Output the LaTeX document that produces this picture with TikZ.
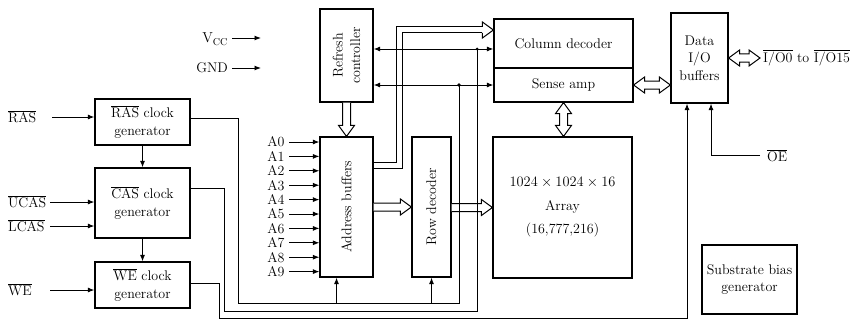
\documentclass[tikz,border=0pt]{standalone}
\usetikzlibrary{arrows.meta,calc}
\newcommand\ovl[1]{$\overline{\mbox{#1}}$}
\newcommand\wideR[2]{\draw[wide] let \p1=(#1), \p2=(#2) in (\x1,\y2+4pt) -- (\x2-11pt,\y2+4pt) -- (\x2-11pt,\y2+8pt) -- (\x2,\y2) -- (\x2-11pt,\y2-8pt) -- (\x2-11pt,\y2-4pt) -- (\x1,\y2-4pt);}
\newcommand\wideD[2]{\draw[wide] let \p1=(#1), \p2=(#2) in (\x2-4pt,\y1) -- (\x2-4pt,\y2+11pt) -- (\x2-8pt,\y2+11pt) -- (\x2,\y2) -- (\x2+8pt,\y2+11pt) -- (\x2+4pt,\y2+11pt) -- (\x2+4pt,\y1);}
\newcommand\wideLR[2]{\draw[wide] let \p1=(#1), \p2=(#2) in (\x1,\y1) -- (\x1+11pt,\y1+8pt) -- (\x1+11pt,\y1+4pt) -- (\x2-11pt,\y1+4pt) -- (\x2-11pt,\y1+8pt) -- (\x2,\y1) -- (\x2-11pt,\y1-8pt) -- (\x2-11pt,\y1-4pt) -- (\x1+11pt,\y1-4pt) -- (\x1+11pt,\y1-8pt) -- cycle;}
\newcommand\wideUD[2]{\draw[wide] let \p1=(#1), \p2=(#2) in (\x1,\y1) -- (\x1+8pt,\y1-11pt) -- (\x1+4pt,\y1-11pt) -- (\x1+4pt,\y2+11pt) -- (\x1+8pt,\y2+11pt) -- (\x1,\y2) -- (\x1-8pt,\y2+11pt) -- (\x1-4pt,\y2+11pt) -- (\x1-4pt,\y1-11pt) -- (\x1-8pt,\y1-11pt) -- cycle;}
\begin{document}
\begin{tikzpicture}[x=1pt,y=-1pt,
  every node/.style={font=\fontsize{14}{17.5}\selectfont, inner sep=0pt},
  box/.style={draw, line width=1.2pt, align=center},
  wide/.style={draw, line width=1pt, fill=white, line join=miter},
  conn/.style={line width=0.95pt},
  arr/.style={conn, -{Latex[length=6.5pt,width=5pt]}},
  darr/.style={conn, {Latex[length=6.5pt,width=5pt]}-{Latex[length=6.5pt,width=5pt]}}]
\useasboundingbox (0,0) rectangle (866,321);

% boxes
\node[box, minimum width=95pt, minimum height=46pt] (ras) at (142.5,122) {\ovl{RAS} clock\\generator};
\node[box, minimum width=95pt, minimum height=70pt] (cas) at (142.5,203) {\ovl{CAS} clock\\generator};
\node[box, minimum width=95pt, minimum height=46pt] (we) at (142.5,285) {\ovl{WE} clock\\generator};
\node[box, minimum width=53pt, minimum height=93pt] (rc) at (346.5,55.5) {};
\node[rotate=90, align=center] at (rc) {Refresh\\controller};
\node[box, minimum width=53pt, minimum height=140pt] (ab) at (346.5,207) {};
\node[rotate=90] at (ab) {Address buffers};
\node[box, minimum width=39pt, minimum height=140pt] (rd) at (431.5,207) {};
\node[rotate=90] at (rd) {Row decoder};
\node[box, minimum width=139pt, minimum height=49pt] (cd) at (563.5,43.5) {Column decoder};
\node[box, minimum width=139pt, minimum height=34pt] (sa) at (563.5,85) {Sense amp};
\node[box, minimum width=139pt, minimum height=141pt, font=\fontsize{14}{23.5}\selectfont] (arr) at (562.5,207.5) {$1024\times1024\times16$\\Array\\(16,777,216)};
\node[box, minimum width=57pt, minimum height=90pt] (dio) at (699.5,58) {Data\\I/O\\buffers};
\node[box, minimum width=95pt, minimum height=69pt] (sb) at (749.5,279.5) {Substrate bias\\generator};

% input labels
\node[anchor=west] (lras) at (8,117) {\ovl{RAS}};
\node[anchor=west] (lucas) at (8,202) {\ovl{UCAS}};
\node[anchor=west] (llcas) at (8,226) {\ovl{LCAS}};
\node[anchor=west] (lwe) at (8,290) {\ovl{WE}};
\coordinate (iras) at (52,117);
\coordinate (iucas) at (50,202);
\coordinate (ilcas) at (50,226);
\coordinate (iwe) at (50,290);
\draw[arr] (iras) -- (iras -| ras.west);
\draw[arr] (iucas) -- (iucas -| cas.west);
\draw[arr] (ilcas) -- (ilcas -| cas.west);
\draw[arr] (iwe) -- (iwe -| we.west);
\draw[arr] (ras) -- (cas);
\draw[arr] (cas) -- (we);

% Vcc, GND
\node[anchor=east] (lvcc) at (228,39) {$\mathrm{V_{CC}}$};
\node[anchor=east] (lgnd) at (228,68) {GND};
\coordinate (vcc1) at (232,38); \coordinate (vcc2) at (261,38);
\coordinate (gnd1) at (232,68); \coordinate (gnd2) at (261,68);
\draw[arr] (vcc1) -- (vcc2);
\draw[arr] (gnd1) -- (gnd2);

% address inputs
\foreach \i in {0,...,9}{
  \node (la\i) at (276,{142+14.4*\i}) {A\i};
  \coordinate (ai\i) at (289,{142+14.4*\i});
  \draw[arr] (ai\i) -- (ai\i -| ab.west);
}

% wide arrows
\wideD{rc.south}{ab.north}
\wideR{ab.east}{rd.west}
\wideR{rd.east}{arr.west}
\wideUD{sa.south}{arr.north}
\wideLR{sa.east}{dio.west |- sa.east}
\coordinate (ioout) at (760,58);
\wideLR{dio.east}{ioout}
\node[anchor=west] (lio) at (763,58) {\ovl{I/O0} to \ovl{I/O15}};

% address buffers -> column decoder (hollow double arrow)
\path (cd.west) ++(0,-13.5) coordinate (cdin);
\coordinate (c1) at (396,27);
\coordinate (c2) at (402,33);
\draw[line width=1pt] let \p1=(cdin) in ([yshift=45pt]ab.east) -| (c1) -- (\x1-11pt,\y1+3pt);
\draw[line width=1pt] let \p1=(cdin) in ([yshift=39pt]ab.east) -| (c2) -- (\x1-11pt,\y1-3pt);
\draw[wide] let \p1=(cdin) in (\x1-11pt,\y1+3pt) -- (\x1-11pt,\y1+8pt) -- (\x1,\y1) -- (\x1-11pt,\y1-8pt) -- (\x1-11pt,\y1-3pt);

% refresh controller lines
\coordinate (j1) at (459,85);
\coordinate (j2) at (477,49);
\draw[darr] (rc.east |- j2) -- (cd.west |- j2);
\draw[darr] (rc.east |- j1) -- (sa.west |- j1);
\fill (j1) circle (1.8pt);
\fill (j2) circle (1.5pt);

% RAS clock routing
\coordinate (r1) at (238,303);
\coordinate (r2) at (459,303);
\draw[conn] ([yshift=4pt]ras.east) -| (r1) -- (r2) -- (j1);
\coordinate (abin) at ([xshift=-10pt]ab.south);
\draw[arr] (abin |- r1) -- (abin);
\draw[arr] (rd.south |- r1) -- (rd.south);

% CAS clock routing
\coordinate (k1) at (224,311);
\coordinate (k2) at (477,311);
\draw[conn] ([yshift=15pt]cas.east) -| (k1) -- (k2) -- (j2);

% WE clock routing
\coordinate (w1) at (219,318);
\coordinate (w2) at (687,318);
\draw[arr] ([yshift=2pt]we.east) -| (w1) -- (w2) -- (w2 |- dio.south);

% OE
\node[anchor=west] (loe) at (767,156) {\ovl{OE}};
\coordinate (oe1) at (760,155);
\coordinate (oe2) at (711,155);
\draw[arr] (oe1) -- (oe2) -- (oe2 |- dio.south);
\end{tikzpicture}
\end{document}
